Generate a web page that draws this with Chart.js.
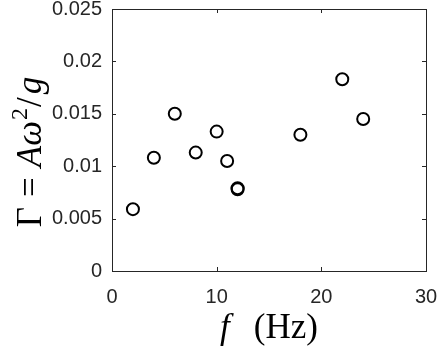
<!DOCTYPE html>
<html lang="en">
<head>
<meta charset="UTF-8">
<title>Gamma en fonction de f</title>
<script src="https://cdn.jsdelivr.net/npm/chart.js"></script>
<style>
  html, body { margin: 0; padding: 0; background: #fff; }
</style>
</head>
<body>
<canvas id="graphique" width="438" height="353"></canvas>
<script>
// donnees
const frequences = [2, 4, 6, 8, 10, 11, 12, 12, 18, 22, 24];
const gammas = [0.0059, 0.0108, 0.0150, 0.0113, 0.0133, 0.0105, 0.0079, 0.0078, 0.0130, 0.0183, 0.0145];
const ticksX = [0, 10, 20, 30];
const etiquettesX = ['0', '10', '20', '30'];
const ticksY = [0, 0.005, 0.01, 0.015, 0.02, 0.025];
const etiquettesY = ['0', '0.005', '0.01', '0.015', '0.02', '0.025'];

const gris = '#262626';
const serif = '"Liberation Serif", "DejaVu Serif", serif';

Chart.defaults.font.family = '"Liberation Sans", Arial, sans-serif';
Chart.defaults.font.size = 20;
Chart.defaults.color = gris;

// ecrit une suite de morceaux de texte (styles differents) a la suite
function largeurMorceaux(ctx, morceaux) {
  let w = 0;
  morceaux.forEach(m => { ctx.font = m.font; w += ctx.measureText(m.t).width + (m.esp || 0); });
  return w;
}
function ecrireMorceaux(ctx, morceaux, x, y) {
  morceaux.forEach(m => {
    ctx.font = m.font;
    ctx.fillText(m.t, x, y + (m.dy || 0));
    x += ctx.measureText(m.t).width + (m.esp || 0);
  });
}

const titreY = [
  { t: 'Γ', font: '35px ' + serif, esp: 10 },
  { t: '=', font: '35px ' + serif, esp: 10 },
  { t: 'A', font: 'italic 35px ' + serif },
  { t: 'ω', font: 'italic 35px ' + serif, esp: 1 },
  { t: '2', font: '24px ' + serif, dy: -14, esp: 1 },
  { t: '/', font: '35px ' + serif, esp: 3 },
  { t: 'g', font: 'italic 35px ' + serif }
];
const titreX = [
  { t: 'f', font: 'italic 35px ' + serif, esp: 24 },
  { t: '(Hz)', font: '35px ' + serif }
];

const cadre = {
  id: 'cadre',
  afterDraw(chart) {
    const ctx = chart.ctx;
    const a = chart.chartArea;
    const sx = chart.scales.x, sy = chart.scales.y;
    const L = 4;
    ctx.save();
    ctx.strokeStyle = gris;
    ctx.lineWidth = 1;
    ctx.strokeRect(Math.round(a.left) + 0.5, Math.round(a.top) + 0.5,
                   Math.round(a.right - a.left), Math.round(a.bottom - a.top));
    ctx.beginPath();
    ticksX.forEach(v => {
      const p = Math.round(sx.getPixelForValue(v)) + 0.5;
      ctx.moveTo(p, a.bottom); ctx.lineTo(p, a.bottom - L);
      ctx.moveTo(p, a.top); ctx.lineTo(p, a.top + L);
    });
    ticksY.forEach(v => {
      const p = Math.round(sy.getPixelForValue(v)) + 0.5;
      ctx.moveTo(a.left, p); ctx.lineTo(a.left + L, p);
      ctx.moveTo(a.right, p); ctx.lineTo(a.right - L, p);
    });
    ctx.stroke();

    ctx.fillStyle = '#000';
    ctx.textBaseline = 'alphabetic';
    ctx.textAlign = 'left';
    // titre axe x
    const wx = largeurMorceaux(ctx, titreX);
    ecrireMorceaux(ctx, titreX, (a.left + a.right) / 2 - wx / 2, 338);
    // titre axe y (tourne), un peu plus bas comme dans l'original
    const wy = largeurMorceaux(ctx, titreY);
    ctx.translate(41, (a.top + a.bottom) / 2 + 12);
    ctx.rotate(-Math.PI / 2);
    ecrireMorceaux(ctx, titreY, -wy / 2, 0);
    ctx.restore();
  }
};

new Chart(document.getElementById('graphique'), {
  type: 'scatter',
  data: {
    datasets: [{
      data: frequences.map((f, i) => ({ x: f, y: gammas[i] })),
      pointStyle: 'circle',
      pointRadius: 6,
      pointHoverRadius: 6,
      borderWidth: 2,
      borderColor: '#000',
      backgroundColor: 'rgba(0,0,0,0)'
    }]
  },
  options: {
    responsive: false,
    animation: false,
    devicePixelRatio: 1,
    layout: { padding: { top: 9, right: 12, left: 0, bottom: 0 } },
    plugins: { legend: { display: false }, tooltip: { enabled: false } },
    scales: {
      x: {
        type: 'linear',
        min: 0, max: 30,
        grid: { display: false, drawTicks: false },
        border: { display: false },
        afterBuildTicks: s => { s.ticks = ticksX.map(v => ({ value: v })); },
        ticks: {
          color: gris,
          padding: 14,
          font: { size: 20 },
          callback: (v) => etiquettesX[ticksX.indexOf(v)]
        },
        afterFit: s => { s.height = 82; s.paddingLeft = 0; s.paddingRight = 0; }
      },
      y: {
        type: 'linear',
        min: 0, max: 0.025,
        grid: { display: false, drawTicks: false },
        border: { display: false },
        afterBuildTicks: s => { s.ticks = ticksY.map(v => ({ value: v })); },
        ticks: {
          color: gris,
          padding: 10,
          font: { size: 20 },
          callback: (v) => etiquettesY[ticksY.indexOf(v)]
        },
        afterFit: s => { s.width = 112; s.paddingTop = 0; s.paddingBottom = 0; }
      }
    }
  },
  plugins: [cadre]
});
</script>
</body>
</html>
